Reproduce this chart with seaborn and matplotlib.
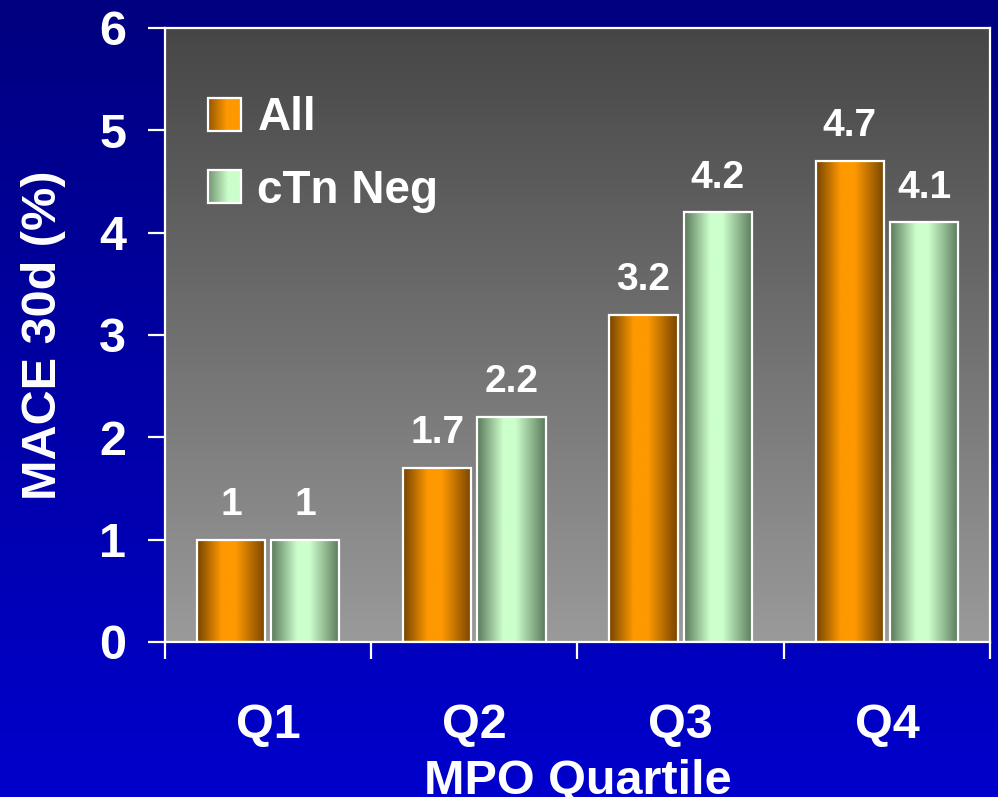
"""
MACE em 30 dias por quartil de MPO — barras com gradiente estilo slide.
"""

import matplotlib

matplotlib.use("Agg")

import matplotlib.pyplot as plt
import numpy as np
import pandas as pd
import seaborn as sns
from matplotlib.colors import LinearSegmentedColormap, Normalize
from matplotlib.image import BboxImage
from matplotlib.legend_handler import HandlerBase
from matplotlib.patches import Rectangle
from matplotlib.transforms import Bbox, TransformedBbox

sns.set_style("ticks")
plt.rcParams["font.family"] = ["Liberation Sans", "DejaVu Sans"]
plt.rcParams["font.weight"] = "bold"
plt.rcParams["axes.labelweight"] = "bold"

# Dados do gráfico
QUARTIS = ["Q1", "Q2", "Q3", "Q4"]
GRUPOS = ["All", "cTn Neg"]
MACE_ALL = [1, 1.7, 3.2, 4.7]
MACE_CTN_NEG = [1, 2.2, 4.2, 4.1]
Y_TICKS = [0, 1, 2, 3, 4, 5, 6]

COR_BRANCO = "white"
CORES_MEIO = ["#ff9900", "#ccffcc"]

CMAP_LARANJA = LinearSegmentedColormap.from_list(
    "laranja", [(0, "#764400"), (0.36, "#ff9900"), (0.56, "#ff9900"), (1, "#764400")]
)
CMAP_VERDE = LinearSegmentedColormap.from_list(
    "verde", [(0, "#5a785a"), (0.38, "#ccffcc"), (0.56, "#ccffcc"), (1, "#5a785a")]
)
CMAP_FUNDO = LinearSegmentedColormap.from_list("fundo", ["#000080", "#0000cc"])
CMAP_AREA = LinearSegmentedColormap.from_list("area", ["#464646", "#9a9a9a"])

GRAD_H = np.linspace(0, 1, 256).reshape(1, -1)
GRAD_V = np.linspace(0, 1, 256).reshape(-1, 1)


class HandlerGradiente(HandlerBase):
    """Quadradinho da legenda com o mesmo gradiente das barras."""

    def __init__(self, cmap):
        super().__init__()
        self.cmap = cmap

    def create_artists(self, legend, orig_handle, xdescent, ydescent,
                       width, height, fontsize, trans):
        caixa = TransformedBbox(Bbox.from_bounds(-xdescent, -ydescent, width, height), trans)
        img = BboxImage(caixa, cmap=self.cmap, norm=Normalize(0, 1),
                        interpolation="bicubic", origin="lower")
        img.set_data(GRAD_H[:, 20:150])
        borda = Rectangle((-xdescent, -ydescent), width, height, facecolor="none",
                          edgecolor=COR_BRANCO, linewidth=1.6, transform=trans)
        return [img, borda]


df = pd.DataFrame({
    "quartil": QUARTIS * 2,
    "grupo": [GRUPOS[0]] * len(QUARTIS) + [GRUPOS[1]] * len(QUARTIS),
    "mace": MACE_ALL + MACE_CTN_NEG,
})

fig = plt.figure(figsize=(9.98, 7.97), dpi=100)

# fundo azul em degradê
fundo = fig.add_axes([0, 0, 1, 1], zorder=-10)
fundo.imshow(GRAD_V, cmap=CMAP_FUNDO, aspect="auto", extent=[0, 1, 0, 1], origin="upper")
fundo.axis("off")

ax = fig.add_axes([0.1653, 0.1945, 0.8267, 0.7704])
ax.set_facecolor("none")
ax.imshow(GRAD_V, cmap=CMAP_AREA, aspect="auto", extent=[0, 1, 0, 1],
          transform=ax.transAxes, origin="upper", zorder=0)

sns.barplot(data=df, x="quartil", y="mace", hue="grupo", palette=CORES_MEIO,
            width=0.72, gap=0.08, edgecolor=COR_BRANCO, linewidth=1.6,
            legend=False, ax=ax, zorder=2)

for container, cmap in zip(ax.containers, [CMAP_LARANJA, CMAP_VERDE]):
    for barra in container:
        x, y = barra.get_xy()
        w, h = barra.get_width(), barra.get_height()
        ax.imshow(GRAD_H, cmap=cmap, extent=[x, x + w, y, y + h], aspect="auto",
                  interpolation="bicubic", zorder=2.5)
        barra.set_facecolor("none")
        barra.set_zorder(3)
    ax.bar_label(container, fmt="%g", padding=12, color=COR_BRANCO,
                 fontsize=28, fontweight="bold")

ax.set_xlim(-0.5, len(QUARTIS) - 0.5)
ax.set_ylim(Y_TICKS[0], Y_TICKS[-1])
ax.set_aspect("auto")

ax.set_yticks(Y_TICKS)
ax.tick_params(axis="y", colors=COR_BRANCO, labelsize=35, length=12, width=1.6, pad=16)
ax.set_xticks(range(len(QUARTIS)))
ax.set_xticklabels(QUARTIS)
ax.tick_params(axis="x", which="major", length=0, pad=44, labelsize=35,
               labelcolor=COR_BRANCO)
ax.set_xticks(np.arange(len(QUARTIS) + 1) - 0.5, minor=True)
ax.tick_params(axis="x", which="minor", length=12, width=1.6, color=COR_BRANCO)

for spine in ax.spines.values():
    spine.set_color(COR_BRANCO)
    spine.set_linewidth(1.6)
    spine.set_zorder(4)

ax.set_xlabel("MPO Quartile", fontsize=35, color=COR_BRANCO)
ax.xaxis.set_label_coords(0.5, -0.19)
ax.set_ylabel("MACE 30d (%)", fontsize=35, color=COR_BRANCO)
ax.yaxis.set_label_coords(-0.12, 0.5)

proxies = [Rectangle((0, 0), 1, 1, facecolor=c) for c in CORES_MEIO]
leg = ax.legend(proxies, GRUPOS, loc="upper left", bbox_to_anchor=(0.052, 0.889),
                frameon=False, fontsize=33, handlelength=0.73, handleheight=0.73,
                handletextpad=0.35, labelspacing=0.62, borderpad=0, borderaxespad=0,
                handler_map={p: HandlerGradiente(c)
                             for p, c in zip(proxies, [CMAP_LARANJA, CMAP_VERDE])})
for texto in leg.get_texts():
    texto.set_color(COR_BRANCO)

fig.savefig("out.png", dpi=100)
